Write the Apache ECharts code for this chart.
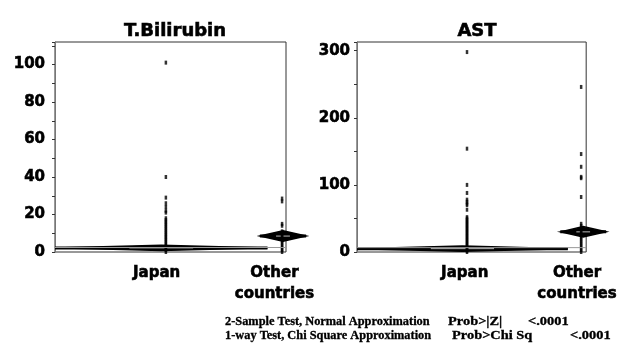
<!DOCTYPE html>
<html>
<head>
<meta charset="utf-8">
<script src="https://cdn.jsdelivr.net/npm/echarts@6/dist/echarts.min.js"></script>
<style>
html,body{margin:0;padding:0;background:#fff;}
#c{width:620px;height:349px;}
</style>
</head>
<body>
<div id="c"></div>
<script>
// ---- data ----
const panelTitles = ['T.Bilirubin', 'AST'];
const groups = ['Japan', 'Other\ncountries'];
const groupPosBili = [0.48, 0.983];
const groupPosAst = [0.48, 0.978];
const labelPosBili = [0.44, 0.95];
const labelPosAst = [0.47, 0.96];

const biliJapan = [0,1,2,3,4,5,6,7,8,9,10,11,12,13,14,15,16,17,18,21,22,24,26,29,40,101];
const biliOther = [0,1,2,3,4,5,6,7,8,9,10,11,14,15,27,28.5];
const astJapan = [0,2,4,6,8,10,12,14,16,18,20,22,24,26,28,30,32,34,36,38,40,42,44,46,48,50,52,63,70,72,75,78,88,100,154,298];
const astOther = [0,3,6,9,12,15,18,21,24,27,30,33,36,39,42,82,110,112,127,146,246];

const biliMeans = [2.2, 8.5];
const biliCI = [1.4, 2.8];
const astMeans = [5.0, 30.0];
const astCI = [3.8, 7.8];
const groupSpans = [[0.0, 0.92], [0.887, 1.087]];
const biliGrandMean = 2.4;
const astGrandMean = 6.5;

const biliAxis = {max: 112, interval: 20};
const astAxis = {max: 313, interval: 100};

const footLines = [
  ['2-Sample Test, Normal Approximation', 'Prob>|Z|', '<.0001'],
  ['1-way Test, Chi Square Approximation', 'Prob>Chi Sq', '<.0001']
];

// ---- chart ----
const chart = echarts.init(document.getElementById('c'), null, {renderer: 'canvas'});
const FONT = 'DejaVu Sans';
const heavy = {textBorderColor: '#000', textBorderWidth: 0.6};

function diamondItem(params, api) {
  const xL = api.value(0), xR = api.value(1), m = api.value(2), h = api.value(3);
  const xM = (xL + xR) / 2;
  const pL = api.coord([xL, m]);
  const pR = api.coord([xR, m]);
  const pT = api.coord([xM, m + h]);
  const pB = api.coord([xM, m - h]);
  return {
    type: 'group',
    children: [
      {type: 'polygon', shape: {points: [pL, pT, pR, pB]}, style: {fill: '#000', stroke: '#000', lineWidth: 1.5}},
      {type: 'line', shape: {x1: pL[0], y1: pL[1], x2: pR[0], y2: pR[1]}, style: {stroke: '#000', lineWidth: 3}},
      {type: 'line', shape: {x1: pL[0] + (pR[0]-pL[0])*0.35, y1: pL[1], x2: pL[0] + (pR[0]-pL[0])*0.65, y2: pR[1]}, style: {stroke: '#bbb', lineWidth: 1}}
    ]
  };
}

function yAxisCfg(idx, ax, margin) {
  return {
    type: 'value', gridIndex: idx, min: 0, max: ax.max, interval: ax.interval,
    axisLine: {show: true, lineStyle: {color: '#777', width: 1}},
    axisTick: {show: true, length: 3, lineStyle: {color: '#333'}},
    minorTick: {show: true, splitNumber: 2, length: 3, lineStyle: {color: '#333'}},
    splitLine: {show: false},
    axisLabel: Object.assign({
      color: '#000', fontFamily: FONT, fontWeight: 'bold', fontSize: 15, margin: margin,
      formatter: v => (v % ax.interval === 0 ? String(v) : '')
    }, heavy)
  };
}

function xAxisCfg(idx, labelPos) {
  return {
    type: 'value', gridIndex: idx, min: 0, max: 1,
    axisLine: {show: false},
    axisTick: {show: false},
    splitLine: {show: false},
    axisLabel: Object.assign({
      customValues: labelPos,
      color: '#000', fontFamily: FONT, fontWeight: 'bold', fontSize: 15, margin: 11,
      lineHeight: 21,
      formatter: v => {
        const i = labelPos.indexOf(v);
        return i >= 0 ? groups[i] : '';
      }
    }, heavy)
  };
}

function pts(pos, vals) { return vals.map(v => [pos, v]); }

const footGraphics = [];
const footX = [[225, 448, 528], [225, 452, 570]];
const footY = [322, 336];
footLines.forEach((line, li) => {
  line.forEach((t, ti) => {
    footGraphics.push({
      type: 'text', x: footX[li][ti], y: footY[li],
      style: {text: t, fill: '#000', font: 'bold 12px "Liberation Serif"', textVerticalAlign: 'middle',
              stroke: '#000', lineWidth: 0.3},
      scaleX: ti === 0 ? 1.03 : 1.2
    });
  });
});

const titleStyle = Object.assign({fontFamily: FONT, fontWeight: 'bold', fontSize: 18, color: '#000'}, heavy);

const option = {
  backgroundColor: '#fff',
  animation: false,
  title: [
    {text: panelTitles[0], left: 170, top: 17, textAlign: 'center', textStyle: titleStyle},
    {text: panelTitles[1], left: 472, top: 17, textAlign: 'center', textStyle: titleStyle}
  ],
  grid: [
    {left: 55, top: 42, width: 231, height: 210, show: true, borderColor: '#333', borderWidth: 1},
    {left: 357, top: 42, width: 231, height: 210, show: true, borderColor: '#333', borderWidth: 1}
  ],
  xAxis: [xAxisCfg(0, labelPosBili), xAxisCfg(1, labelPosAst)],
  yAxis: [yAxisCfg(0, biliAxis, 10), yAxisCfg(1, astAxis, 7)],
  series: [
    {type: 'line', xAxisIndex: 0, yAxisIndex: 0, data: [[0, biliGrandMean], [1, biliGrandMean]],
     symbol: 'none', lineStyle: {color: '#999', width: 1}, silent: true},
    {type: 'line', xAxisIndex: 1, yAxisIndex: 1, data: [[0, astGrandMean], [1, astGrandMean]],
     symbol: 'none', lineStyle: {color: '#999', width: 1}, silent: true},
    {type: 'custom', xAxisIndex: 0, yAxisIndex: 0, clip: false, renderItem: diamondItem,
     encode: {x: [0, 1], y: [2]},
     data: biliMeans.map((m, i) => [groupSpans[i][0], groupSpans[i][1], m, biliCI[i]])},
    {type: 'custom', xAxisIndex: 1, yAxisIndex: 1, clip: false, renderItem: diamondItem,
     encode: {x: [0, 1], y: [2]},
     data: astMeans.map((m, i) => [groupSpans[i][0], groupSpans[i][1], m, astCI[i]])},
    {type: 'scatter', xAxisIndex: 0, yAxisIndex: 0, symbol: 'rect', symbolSize: [2.5, 4],
     itemStyle: {color: '#000'}, data: pts(groupPosBili[0], biliJapan)},
    {type: 'scatter', xAxisIndex: 0, yAxisIndex: 0, symbol: 'rect', symbolSize: [2.5, 4],
     itemStyle: {color: '#000'}, data: pts(groupPosBili[1], biliOther)},
    {type: 'scatter', xAxisIndex: 1, yAxisIndex: 1, symbol: 'rect', symbolSize: [2.5, 4],
     itemStyle: {color: '#000'}, data: pts(groupPosAst[0], astJapan)},
    {type: 'scatter', xAxisIndex: 1, yAxisIndex: 1, symbol: 'rect', symbolSize: [2.5, 4],
     itemStyle: {color: '#000'}, data: pts(groupPosAst[1], astOther)}
  ],
  graphic: footGraphics
};
chart.setOption(option);
</script>
</body>
</html>
